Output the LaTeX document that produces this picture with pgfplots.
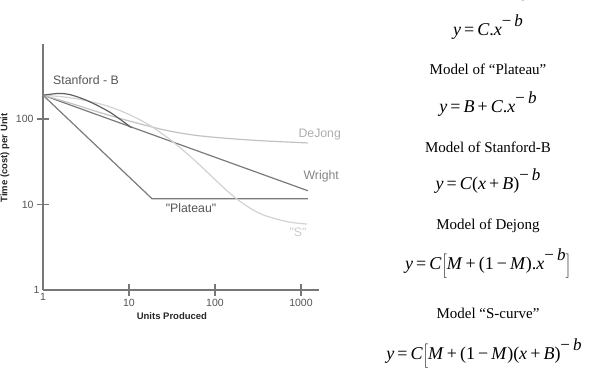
\documentclass[border=0pt]{standalone}
\usepackage{pgfplots}
\pgfplotsset{compat=1.18}
\usepackage{fontspec}
\setmainfont{Liberation Serif}
\newfontfamily\arial{Liberation Sans}
\definecolor{axisgray}{HTML}{777777}
\definecolor{ticktext}{HTML}{555555}
\definecolor{wrightc}{HTML}{7A7A7A}
\definecolor{stanc}{HTML}{606060}
\definecolor{dejongc}{HTML}{C2C2C2}
\definecolor{sc}{HTML}{D2D2D2}
\newcommand{\iv}[1]{\textit{#1}}
\newcommand{\fm}{\fontsize{18}{20}\selectfont\spaceskip=0.17em\relax}
\newcommand{\ttl}{\fontsize{15}{17}\selectfont}
\newcommand{\sups}[1]{\raisebox{0.5em}{\fontsize{17}{18}\selectfont #1}}
\begin{document}
\begin{tikzpicture}[x=1pt,y=1pt]
\path[use as bounding box] (0,0) rectangle (592,369);
\begin{axis}[
  at={(43pt,79pt)}, anchor=south west,
  scale only axis, width=276pt, height=246pt,
  xmode=log, ymode=log,
  xmin=1, xmax=1620, ymin=1, ymax=754,
  axis lines=left,
  axis line style={-, draw=axisgray, line width=1.1pt},
  xtick={10,100,1000}, xticklabels={10,100,1000},
  ytick={10,100}, yticklabels={10,100},
  extra x ticks={1}, extra x tick labels={1},
  extra y ticks={1}, extra y tick labels={1},
  extra tick style={major tick length=0pt},
  xminorticks=false, yminorticks=false,
  tick align=center, major tick length=12pt,
  tick style={draw=axisgray, line width=1.1pt},
  tick label style={font=\arial\fontsize{10.5}{12}\selectfont, text=ticktext},
  xlabel={Units Produced},
  ylabel={Time (cost) per Unit},
  label style={font=\arial\bfseries\fontsize{9.5}{11}\selectfont, text=black!85},
  xlabel style={at={(axis description cs:0.467,0)}, anchor=center, yshift=-26pt},
  ylabel style={at={(axis description cs:-0.138,0.537)}, anchor=center},
  clip=false,
]
% Wright
\addplot[draw=wrightc, line width=1.2pt] coordinates {(1,190) (1200,14.5)};
% Plateau
\addplot[draw=wrightc, line width=1.2pt] coordinates {(1,190) (18.5,11.7) (1200,11.7)};
% DeJong
\addplot[draw=dejongc, line width=1.2pt, smooth] coordinates {
 (1,190) (2,155) (3.16,134) (5,116) (10,95) (25,75) (50,66) (100,61) (316,56) (1200,52.5)};
% S-curve
\addplot[draw=sc, line width=1.2pt, smooth] coordinates {
 (1,190) (1.78,180.8) (3.16,164.6) (5.62,141.5) (10,113.2) (17.8,83.2) (31.6,55.2) (56.2,33.8) (100,19.6) (141,14.2) (200,10.7) (282,8.55) (398,7.32) (708,6.27) (1175,5.9)};
% Stanford-B
\addplot[draw=stanc, line width=1.2pt, smooth] coordinates {
 (1,190) (1.5,199) (2,194) (2.7,177) (3.5,159) (4.6,139) (6,120) (7.2,106) (9,90) (10.7,79)};
\end{axis}
% curve labels
\begin{scope}[font=\arial\fontsize{12.3}{14}\selectfont]
\node[text=ticktext] at (86,289) {Stanford - B};
\node[text=black!32, anchor=west] at (295,234.7) {DeJong};
\node[text=black!48, anchor=west] at (300,192.3) {Wright};
\node[text=ticktext] at (191,160.7) {"Plateau"};
\node[text=black!20] at (298,136.3) {"S"};
\end{scope}
% model texts
\node[anchor=base] at (488,371) {\ttl Model of Wright};
\node[anchor=base] at (488,333) {\fm \iv{y} = \iv{C}.\iv{x}\sups{− \iv{b}}};
\node[anchor=base] at (488,294) {\ttl Model of “Plateau”};
\node[anchor=base] at (488,256) {\fm \iv{y} = \iv{B} + \iv{C}.\iv{x}\sups{− \iv{b}}};
\node[anchor=base] at (488,216.3) {\ttl Model of Stanford-B};
\node[anchor=base] at (488,179) {\fm \iv{y} = \iv{C}(\iv{x} + \iv{B})\sups{− \iv{b}}};
\node[anchor=base] at (488,139) {\ttl Model of Dejong};
\node[anchor=base] at (488,99) {\fm \iv{y} = \iv{C}$\bigg[$\iv{M} + (1 − \iv{M}).\iv{x}\sups{− \iv{b}}$\bigg]$};
\node[anchor=base] at (484,9) {\fm \iv{y} = \iv{C}$\bigg[$\iv{M} + (1 − \iv{M})(\iv{x} + \iv{B})\sups{− \iv{b}}};
\node[anchor=base] at (488,50.7) {\ttl Model “S-curve”};
\end{tikzpicture}
\end{document}
